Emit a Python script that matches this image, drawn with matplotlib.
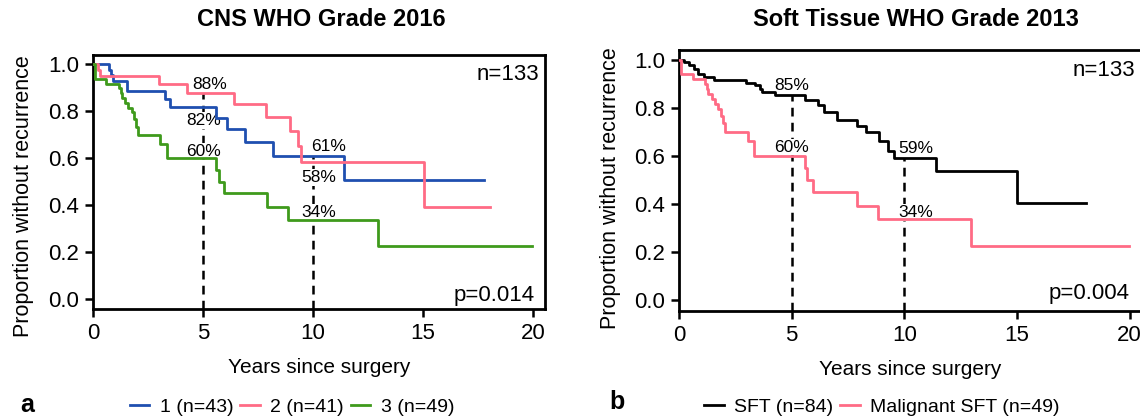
import numpy as np
import matplotlib.pyplot as plt

plt.rcParams['font.family'] = ['Liberation Sans', 'DejaVu Sans']

# Kaplan-Meier steps: time (years) and proportion after that time
g1_t = [0, 0.7, 0.8, 0.9, 1.53, 3.27, 3.5, 5.59, 6.08, 6.91, 8.2, 11.42, 17.8]
g1_s = [1.0, 0.977, 0.953, 0.93, 0.887, 0.854, 0.82, 0.773, 0.723, 0.671, 0.61, 0.506, 0.506]

g2_t = [0, 0.2, 0.3, 2.97, 4.26, 6.42, 7.85, 8.95, 9.33, 9.44, 15.06, 18.05]
g2_s = [1.0, 0.976, 0.951, 0.915, 0.879, 0.83, 0.777, 0.716, 0.652, 0.584, 0.39, 0.39]

g3_t = [0, 0.09, 0.6, 1.15, 1.25, 1.3, 1.45, 1.6, 1.75, 1.85, 1.95, 2.03, 3.05, 3.35,
        5.6, 5.7, 5.95, 7.9, 8.85, 12.95, 19.97]
g3_s = [1.0, 0.939, 0.918, 0.898, 0.878, 0.857, 0.837, 0.816, 0.796, 0.765, 0.735, 0.70,
        0.66, 0.60, 0.55, 0.50, 0.45, 0.39, 0.338, 0.225, 0.225]

sft_t = [0, 0.22, 0.45, 0.67, 0.85, 1.09, 1.57, 2.98, 3.36, 3.58, 3.7, 4.25, 5.59, 6.19,
         6.44, 7.01, 7.9, 8.28, 8.9, 9.28, 9.55, 11.41, 15.02, 18.06]
sft_s = [1.0, 0.99, 0.976, 0.963, 0.942, 0.928, 0.914, 0.904, 0.893, 0.879, 0.865, 0.851,
         0.833, 0.81, 0.782, 0.75, 0.726, 0.699, 0.664, 0.622, 0.592, 0.536, 0.403, 0.403]

# malignant SFT = same patients as grade 3
msft_t = g3_t
msft_s = g3_s

labels_a = ['1 (n=43)', '2 (n=41)', '3 (n=49)']
labels_b = ['SFT (n=84)', 'Malignant SFT (n=49)']
blue, pink, green = '#1f4fb0', '#ff6b85', '#3f9a1c'


def val_at(t, s, x):
    i = np.searchsorted(t, x, side='right') - 1
    return s[i]


def setup(ax, ylab_pos):
    ax.set_xlim(0, 20.55)
    ax.set_ylim(-0.044, 1.04)
    ax.set_xticks([0, 5, 10, 15, 20])
    ax.set_yticks(np.arange(0, 1.01, 0.2))
    ax.set_yticklabels([f'{v:.1f}' for v in np.arange(0, 1.01, 0.2)])
    ax.tick_params(direction='out', length=6, width=1.8, labelsize=16, pad=4)
    for sp in ax.spines.values():
        sp.set_linewidth(2)
    ax.set_xlabel('Years since surgery', fontsize=15, labelpad=10)
    ax.set_ylabel('Proportion without recurrence', fontsize=15.5)
    ax.yaxis.set_label_coords(*ylab_pos)


def pct(ax, x, y, txt):
    ax.text(x, y, txt, ha='center', va='center', fontsize=12.5, zorder=4,
            bbox=dict(facecolor='white', edgecolor='none', pad=0.5))


fig = plt.figure(figsize=(11.4, 4.19), dpi=100)
ax1 = fig.add_axes([0.0818, 0.2618, 0.3962, 0.607])
ax2 = fig.add_axes([0.5956, 0.2578, 0.4061, 0.6229])

# panel a
curves_a = [(g1_t, g1_s, blue), (g2_t, g2_s, pink), (g3_t, g3_s, green)]
for (t, s, c), lab in zip(curves_a, labels_a):
    ax1.step(t, s, where='post', color=c, lw=2, label=lab, zorder=5)
for yr in [5, 10]:
    top = max(val_at(t, s, yr) for t, s, c in curves_a)
    ax1.plot([yr, yr], [-0.044, top], color='black', lw=1.8, ls=(0, (3.5, 2.5)), zorder=2)
a_lab = [(g2_t, g2_s, 5, 0.3, 0.036), (g1_t, g1_s, 5, 0, -0.06), (g3_t, g3_s, 5, 0, 0.03),
         (g1_t, g1_s, 10, 0.7, 0.04), (g2_t, g2_s, 10, 0.27, -0.066), (g3_t, g3_s, 10, 0.27, 0.03)]
for t, s, yr, dx, dy in a_lab:
    v = val_at(t, s, yr)
    pct(ax1, yr + dx, v + dy, f'{round(v * 100)}%')
ax1.text(20.3, 0.955, 'n=133', ha='right', va='center', fontsize=16)
ax1.text(20.1, 0.014, 'p=0.014', ha='right', va='center', fontsize=16)
setup(ax1, (-0.131, 0.445))

# panel b
curves_b = [(sft_t, sft_s, 'black'), (msft_t, msft_s, pink)]
for (t, s, c), lab in zip(curves_b, labels_b):
    ax2.step(t, s, where='post', color=c, lw=2, label=lab, zorder=5)
for yr in [5, 10]:
    top = max(val_at(t, s, yr) for t, s, c in curves_b)
    ax2.plot([yr, yr], [-0.044, top], color='black', lw=1.8, ls=(0, (3.5, 2.5)), zorder=2)
b_lab = [(sft_t, sft_s, 5, 0, 0.042), (msft_t, msft_s, 5, 0, 0.036),
         (sft_t, sft_s, 10, 0.5, 0.037), (msft_t, msft_s, 10, 0.5, 0.027)]
for t, s, yr, dx, dy in b_lab:
    v = val_at(t, s, yr)
    pct(ax2, yr + dx, v + dy, f'{round(v * 100)}%')
ax2.text(20.25, 0.955, 'n=133', ha='right', va='center', fontsize=16)
ax2.text(20.0, 0.028, 'p=0.004', ha='right', va='center', fontsize=16)
setup(ax2, (-0.125, 0.471))

fig.text(321 / 1140, 1 - 19 / 419, 'CNS WHO Grade 2016', ha='center', va='center',
         fontsize=17, fontweight='bold')
fig.text(916 / 1140, 1 - 19 / 419, 'Soft Tissue WHO Grade 2013', ha='center', va='center',
         fontsize=17, fontweight='bold')
fig.text(27 / 1140, 1 - 405 / 419, 'a', ha='center', va='center', fontsize=18, fontweight='bold')
fig.text(617 / 1140, 1 - 402 / 419, 'b', ha='center', va='center', fontsize=18, fontweight='bold')

leg_kw = dict(loc='center', ncol=3, frameon=False, fontsize=14, handlelength=1.0,
              handletextpad=0.55, columnspacing=0.35, borderaxespad=0, borderpad=0)
h, l = ax1.get_legend_handles_labels()
fig.legend(h, l, bbox_to_anchor=(292 / 1140, 1 - 407 / 419), **leg_kw)
h, l = ax2.get_legend_handles_labels()
fig.legend(h, l, bbox_to_anchor=(882 / 1140, 1 - 407 / 419), **leg_kw)

fig.savefig('out.png', dpi=100)
